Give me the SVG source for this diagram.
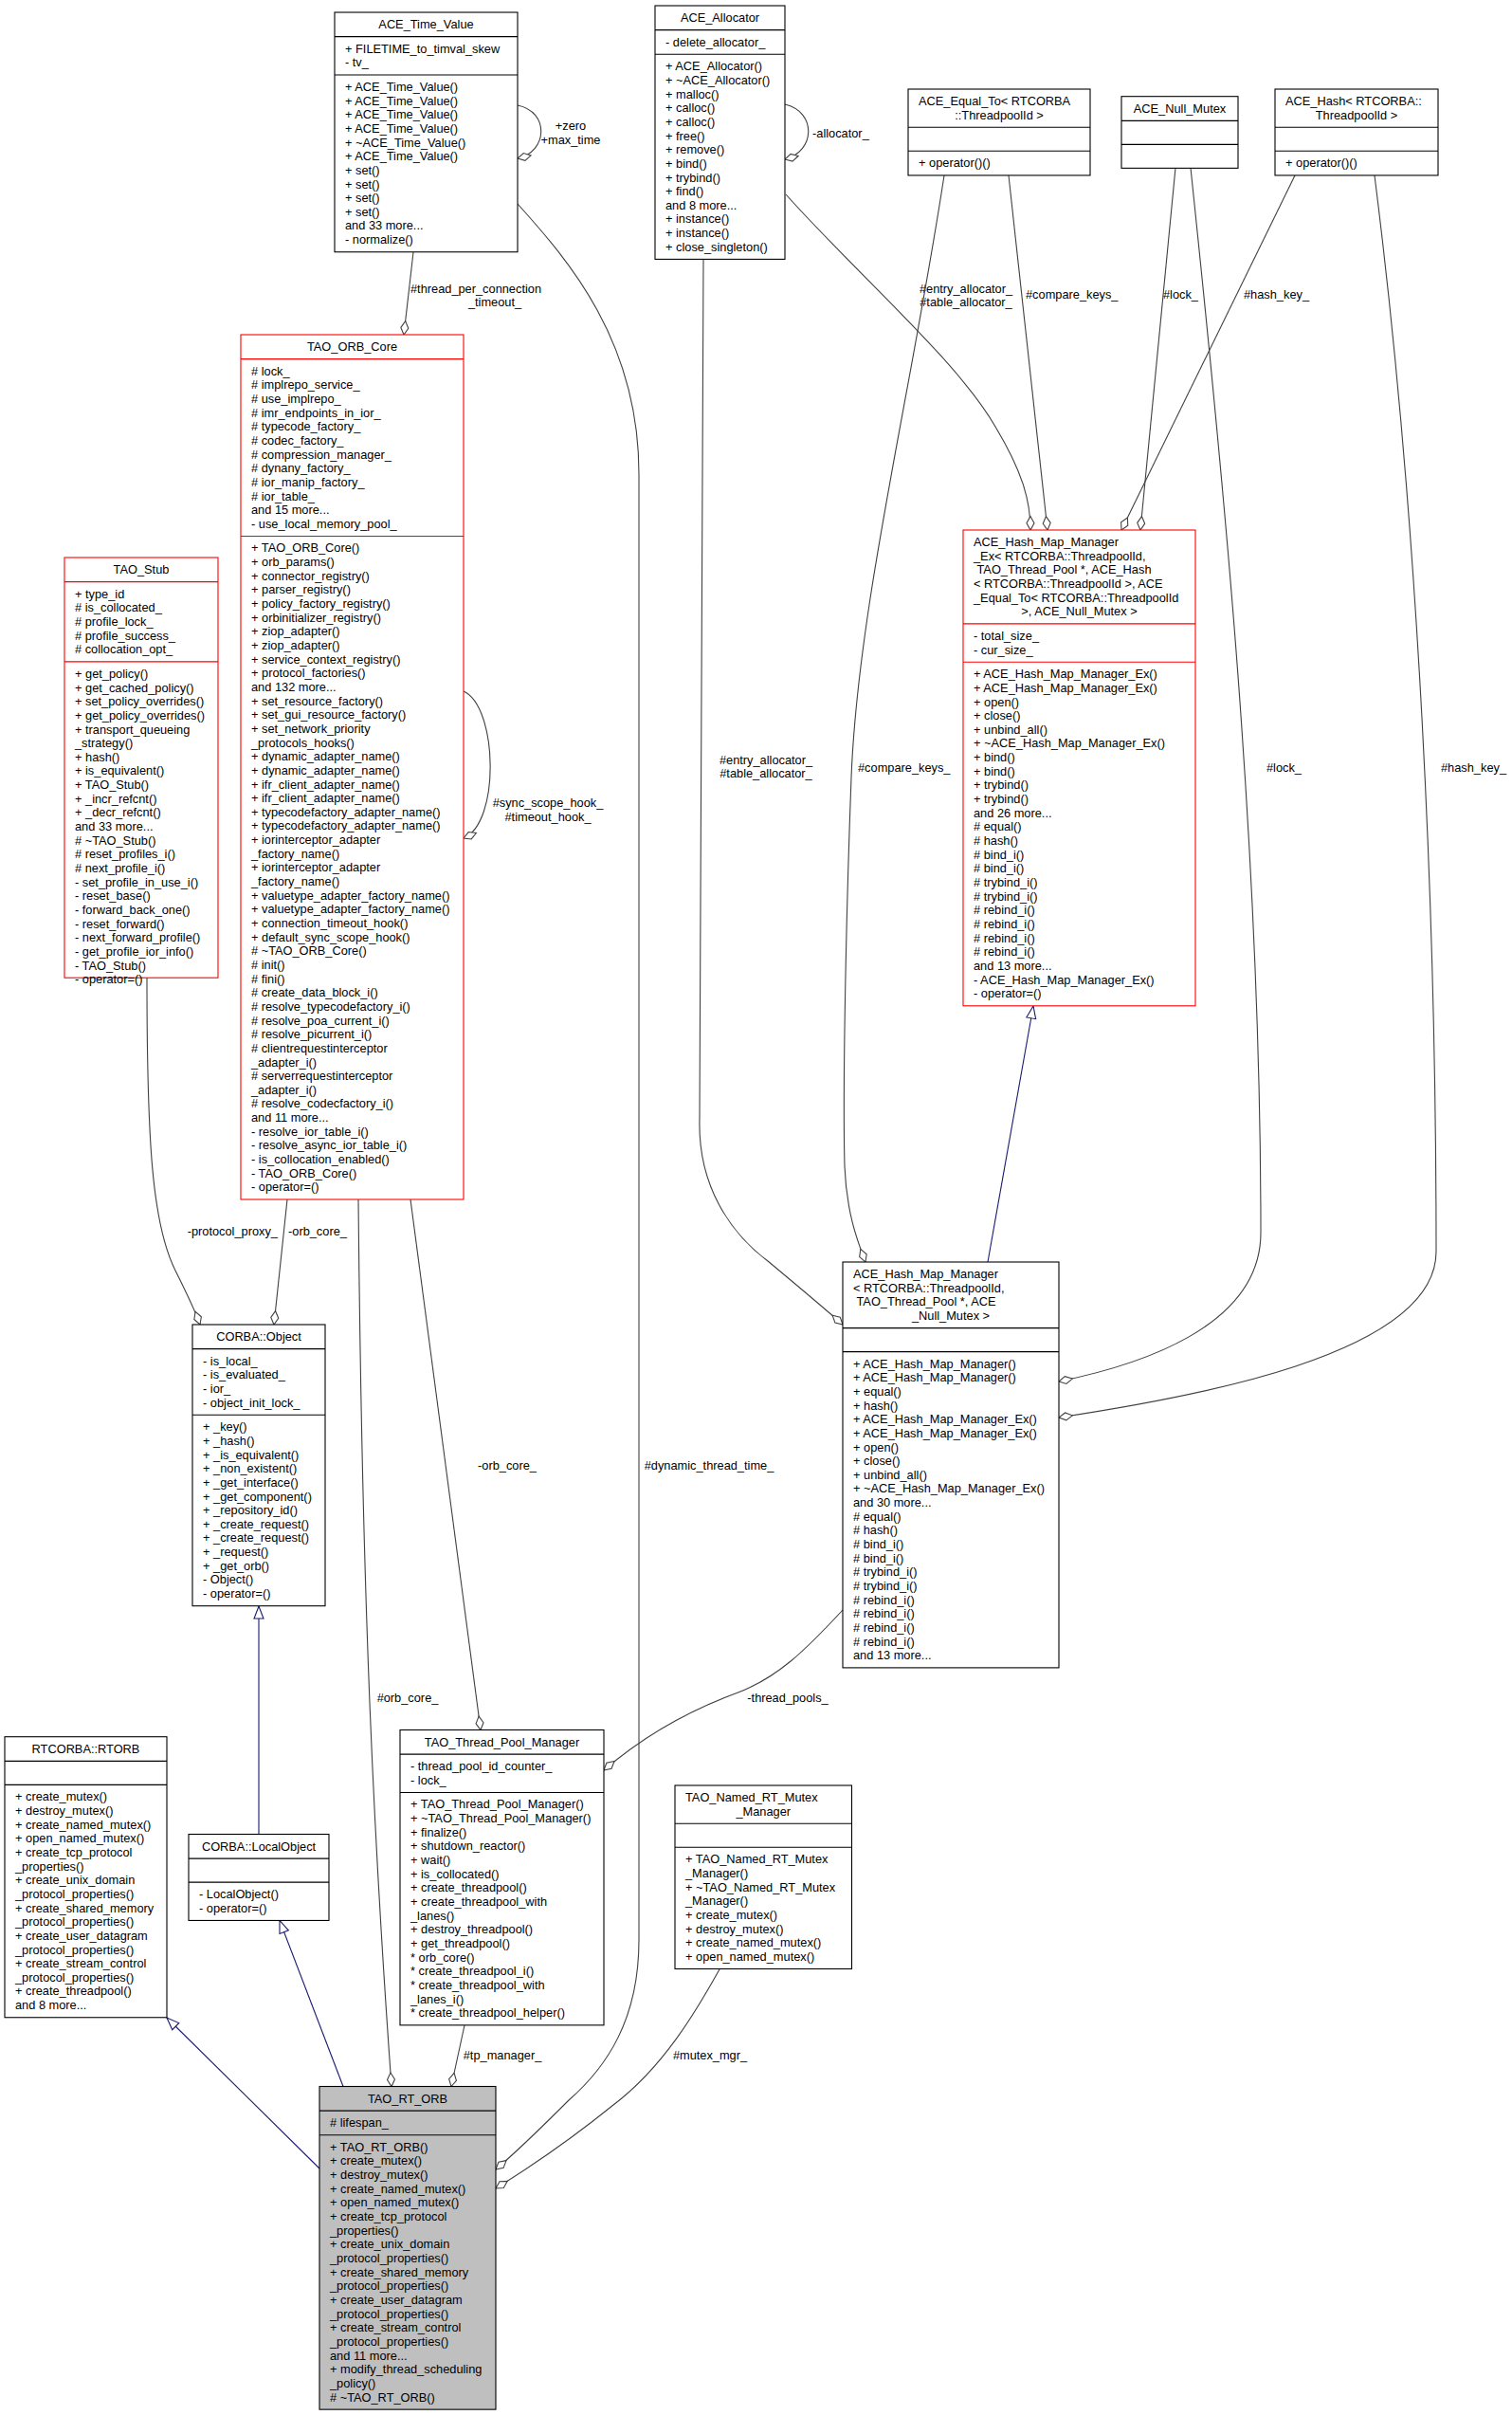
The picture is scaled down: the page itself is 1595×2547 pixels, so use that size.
<svg xmlns="http://www.w3.org/2000/svg" width="1595" height="2547" viewBox="0 0 1595 2547">
<style>
.n{fill:#fff;stroke:#000;stroke-width:1.1}
.rd{fill:#fff;stroke:#f00;stroke-width:1.1}
.gr{fill:#bfbfbf;stroke:#000;stroke-width:1.1}
.s{stroke:#000;stroke-width:1.1}
.sr{stroke:#f00;stroke-width:1.1}
text{font-family:"Liberation Sans",Arial,Helvetica,sans-serif;font-size:12.8px;fill:#000}
.c{text-anchor:middle}
.e{fill:none;stroke:#404040;stroke-width:1.1}
.i{fill:none;stroke:#191970;stroke-width:1.1}
</style>
<defs>
<marker id="d" markerWidth="17" markerHeight="11" refX="15.5" refY="5.5" orient="auto" markerUnits="userSpaceOnUse" overflow="visible"><path d="M1,5.5 L8.25,1.5 L15.5,5.5 L8.25,9.5 Z" fill="#fff" stroke="#404040" stroke-width="1.1"/></marker>
<marker id="t" markerWidth="15" markerHeight="12" refX="14" refY="6" orient="auto" markerUnits="userSpaceOnUse" overflow="visible"><path d="M1,1 L14,6 L1,11 Z" fill="#fff" stroke="#191970" stroke-width="1.1"/></marker>
</defs>
<rect width="1595" height="2547" fill="#fff"/>

<g id="edges">
<path class="e" d="M546,111 C580,118 578,160 546,167" marker-end="url(#d)"/>
<text x="602" y="137" class="c">+zero</text><text x="602" y="151.7" class="c">+max_time</text>
<path class="e" d="M828,110 C862,118 860,160 828,168" marker-end="url(#d)"/>
<text x="857" y="144.5">-allocator_</text>
<path class="e" d="M436,266 L426,353" marker-end="url(#d)"/>
<text x="502" y="308.5" class="c">#thread_per_connection</text><text x="522" y="322.5" class="c">_timeout_</text>
<path class="e" d="M489,729 C525,745 528,868 489,884" marker-end="url(#d)"/>
<text x="578" y="851" class="c">#sync_scope_hook_</text><text x="578" y="865.5" class="c">#timeout_hook_</text>
<path class="e" d="M829,205 C900,285 1010,380 1050,450 C1080,500 1087,530 1087,559" marker-end="url(#d)"/>
<text x="1019" y="308.5" class="c">#entry_allocator_</text><text x="1019" y="322.5" class="c">#table_allocator_</text>
<path class="e" d="M1064,185 L1105,559" marker-end="url(#d)"/>
<text x="1082" y="314.5">#compare_keys_</text>
<path class="e" d="M1240,177 L1203,559" marker-end="url(#d)"/>
<text x="1227" y="314.5">#lock_</text>
<path class="e" d="M1366,185 L1183,559" marker-end="url(#d)"/>
<text x="1312" y="314.5">#hash_key_</text>
<path class="e" d="M742,274 L738,1180 C736,1250 770,1300 810,1330 C840,1355 870,1380 889,1397" marker-end="url(#d)"/>
<text x="808" y="806" class="c">#entry_allocator_</text><text x="808" y="820" class="c">#table_allocator_</text>
<path class="e" d="M996,185 C960,420 905,640 898,820 C892,980 889,1150 891,1230 C893,1280 905,1310 913,1331" marker-end="url(#d)"/>
<text x="905" y="813.5">#compare_keys_</text>
<path class="e" d="M1256,177 C1290,500 1330,900 1330,1300 C1330,1400 1200,1440 1117,1457" marker-end="url(#d)"/>
<text x="1336" y="813.5">#lock_</text>
<path class="e" d="M1450,185 C1490,500 1515,900 1515,1320 C1515,1430 1250,1475 1117,1495" marker-end="url(#d)"/>
<text x="1520" y="813.5">#hash_key_</text>
<path class="i" d="M1042,1331 L1090,1061" marker-end="url(#t)"/>
<path class="e" d="M889,1698 C850,1740 820,1770 776,1786 C730,1803 680,1830 637,1867" marker-end="url(#d)"/>
<text x="831" y="1795" class="c">-thread_pools_</text>
<path class="e" d="M303,1265 L289,1397" marker-end="url(#d)"/>
<text x="304" y="1302.5">-orb_core_</text>
<path class="e" d="M155,1031 C155,1200 160,1290 185,1340 C195,1360 205,1380 211,1397" marker-end="url(#d)"/>
<text x="293" y="1302.5" text-anchor="end">-protocol_proxy_</text>
<path class="e" d="M433,1265 L507,1824.5" marker-end="url(#d)"/>
<text x="535" y="1549.5" class="c">-orb_core_</text>
<path class="e" d="M378,1265 C382,1700 395,1950 413,2200.5" marker-end="url(#d)"/>
<text x="430" y="1795" class="c">#orb_core_</text>
<path class="e" d="M490,2136 L476,2200.5" marker-end="url(#d)"/>
<text x="530" y="2172" class="c">#tp_manager_</text>
<path class="e" d="M546,215 C600,275 674,360 674,500 L674,2046 C674,2130 640,2180 600,2215 C575,2240 550,2265 523,2288" marker-end="url(#d)"/>
<text x="748" y="1549.5" class="c">#dynamic_thread_time_</text>
<path class="e" d="M759,2077 C735,2120 700,2180 647,2220 C610,2250 560,2285 523,2308" marker-end="url(#d)"/>
<text x="749" y="2172" class="c">#mutex_mgr_</text>
<path class="i" d="M273,1934.5 L273,1694" marker-end="url(#t)"/>
<path class="i" d="M362,2200.5 L295,2025.5" marker-end="url(#t)"/>
<path class="i" d="M337,2287 L176,2128" marker-end="url(#t)"/>
</g>

<g id="ace_time_value">
<rect class="n" x="353" y="13" width="193" height="252.75"/>
<line class="s" x1="353" y1="38.65" x2="546" y2="38.65"/>
<line class="s" x1="353" y1="78.95" x2="546" y2="78.95"/>
<text class="c" x="449.5" y="30">ACE_Time_Value</text>
<text x="364" y="55.65"><tspan x="364">+ FILETIME_to_timval_skew</tspan><tspan x="364" dy="14.65">- tv_</tspan></text>
<text x="364" y="95.95"><tspan x="364">+ ACE_Time_Value()</tspan><tspan x="364" dy="14.65">+ ACE_Time_Value()</tspan><tspan x="364" dy="14.65">+ ACE_Time_Value()</tspan><tspan x="364" dy="14.65">+ ACE_Time_Value()</tspan><tspan x="364" dy="14.65">+ ~ACE_Time_Value()</tspan><tspan x="364" dy="14.65">+ ACE_Time_Value()</tspan><tspan x="364" dy="14.65">+ set()</tspan><tspan x="364" dy="14.65">+ set()</tspan><tspan x="364" dy="14.65">+ set()</tspan><tspan x="364" dy="14.65">+ set()</tspan><tspan x="364" dy="14.65">and 33 more...</tspan><tspan x="364" dy="14.65">- normalize()</tspan></text>
</g>

<g id="ace_allocator">
<rect class="n" x="691" y="6" width="137" height="267.4"/>
<line class="s" x1="691" y1="31.65" x2="828" y2="31.65"/>
<line class="s" x1="691" y1="57.3" x2="828" y2="57.3"/>
<text class="c" x="759.5" y="23">ACE_Allocator</text>
<text x="702" y="48.65">- delete_allocator_</text>
<text x="702" y="74.3"><tspan x="702">+ ACE_Allocator()</tspan><tspan x="702" dy="14.65">+ ~ACE_Allocator()</tspan><tspan x="702" dy="14.65">+ malloc()</tspan><tspan x="702" dy="14.65">+ calloc()</tspan><tspan x="702" dy="14.65">+ calloc()</tspan><tspan x="702" dy="14.65">+ free()</tspan><tspan x="702" dy="14.65">+ remove()</tspan><tspan x="702" dy="14.65">+ bind()</tspan><tspan x="702" dy="14.65">+ trybind()</tspan><tspan x="702" dy="14.65">+ find()</tspan><tspan x="702" dy="14.65">and 8 more...</tspan><tspan x="702" dy="14.65">+ instance()</tspan><tspan x="702" dy="14.65">+ instance()</tspan><tspan x="702" dy="14.65">+ close_singleton()</tspan></text>
</g>

<g id="ace_equal_to">
<rect class="n" x="958" y="94" width="192" height="90.95"/>
<line class="s" x1="958" y1="134.3" x2="1150" y2="134.3"/>
<line class="s" x1="958" y1="159.3" x2="1150" y2="159.3"/>
<text x="969" y="111">ACE_Equal_To&lt; RTCORBA</text>
<text class="c" x="1054" y="125.65">::ThreadpoolId &gt;</text>
<text x="969" y="176.3">+ operator()()</text>
</g>

<g id="ace_null_mutex">
<rect class="n" x="1183" y="101.7" width="123" height="75.65"/>
<line class="s" x1="1183" y1="127.35" x2="1306" y2="127.35"/>
<line class="s" x1="1183" y1="152.35" x2="1306" y2="152.35"/>
<text class="c" x="1244.5" y="118.7">ACE_Null_Mutex</text>
</g>

<g id="ace_hash">
<rect class="n" x="1345" y="94" width="172" height="90.95"/>
<line class="s" x1="1345" y1="134.3" x2="1517" y2="134.3"/>
<line class="s" x1="1345" y1="159.3" x2="1517" y2="159.3"/>
<text x="1356" y="111">ACE_Hash&lt; RTCORBA::</text>
<text class="c" x="1431" y="125.65">ThreadpoolId &gt;</text>
<text x="1356" y="176.3">+ operator()()</text>
</g>

<g id="ace_hash_map_manager_ex">
<rect class="rd" x="1016" y="559" width="245" height="501.8"/>
<line class="sr" x1="1016" y1="657.9" x2="1261" y2="657.9"/>
<line class="sr" x1="1016" y1="698.2" x2="1261" y2="698.2"/>
<text x="1027" y="576"><tspan x="1027">ACE_Hash_Map_Manager</tspan><tspan x="1027" dy="14.65">_Ex&lt; RTCORBA::ThreadpoolId,</tspan><tspan x="1030.5" dy="14.65">TAO_Thread_Pool *, ACE_Hash</tspan><tspan x="1027" dy="14.65">&lt; RTCORBA::ThreadpoolId &gt;, ACE</tspan><tspan x="1027" dy="14.65">_Equal_To&lt; RTCORBA::ThreadpoolId</tspan></text>
<text class="c" x="1138.5" y="649.25">&gt;, ACE_Null_Mutex &gt;</text>
<text x="1027" y="674.9"><tspan x="1027">- total_size_</tspan><tspan x="1027" dy="14.65">- cur_size_</tspan></text>
<text x="1027" y="715.2"><tspan x="1027">+ ACE_Hash_Map_Manager_Ex()</tspan><tspan x="1027" dy="14.65">+ ACE_Hash_Map_Manager_Ex()</tspan><tspan x="1027" dy="14.65">+ open()</tspan><tspan x="1027" dy="14.65">+ close()</tspan><tspan x="1027" dy="14.65">+ unbind_all()</tspan><tspan x="1027" dy="14.65">+ ~ACE_Hash_Map_Manager_Ex()</tspan><tspan x="1027" dy="14.65">+ bind()</tspan><tspan x="1027" dy="14.65">+ bind()</tspan><tspan x="1027" dy="14.65">+ trybind()</tspan><tspan x="1027" dy="14.65">+ trybind()</tspan><tspan x="1027" dy="14.65">and 26 more...</tspan><tspan x="1027" dy="14.65"># equal()</tspan><tspan x="1027" dy="14.65"># hash()</tspan><tspan x="1027" dy="14.65"># bind_i()</tspan><tspan x="1027" dy="14.65"># bind_i()</tspan><tspan x="1027" dy="14.65"># trybind_i()</tspan><tspan x="1027" dy="14.65"># trybind_i()</tspan><tspan x="1027" dy="14.65"># rebind_i()</tspan><tspan x="1027" dy="14.65"># rebind_i()</tspan><tspan x="1027" dy="14.65"># rebind_i()</tspan><tspan x="1027" dy="14.65"># rebind_i()</tspan><tspan x="1027" dy="14.65">and 13 more...</tspan><tspan x="1027" dy="14.65">- ACE_Hash_Map_Manager_Ex()</tspan><tspan x="1027" dy="14.65">- operator=()</tspan></text>
</g>

<g id="ace_hash_map_manager">
<rect class="n" x="889" y="1331" width="228" height="427.9"/>
<line class="s" x1="889" y1="1400.6" x2="1117" y2="1400.6"/>
<line class="s" x1="889" y1="1425.6" x2="1117" y2="1425.6"/>
<text x="900" y="1348"><tspan x="900">ACE_Hash_Map_Manager</tspan><tspan x="900" dy="14.65">&lt; RTCORBA::ThreadpoolId,</tspan><tspan x="903.5" dy="14.65">TAO_Thread_Pool *, ACE</tspan></text>
<text class="c" x="1003" y="1391.95">_Null_Mutex &gt;</text>
<text x="900" y="1442.6"><tspan x="900">+ ACE_Hash_Map_Manager()</tspan><tspan x="900" dy="14.65">+ ACE_Hash_Map_Manager()</tspan><tspan x="900" dy="14.65">+ equal()</tspan><tspan x="900" dy="14.65">+ hash()</tspan><tspan x="900" dy="14.65">+ ACE_Hash_Map_Manager_Ex()</tspan><tspan x="900" dy="14.65">+ ACE_Hash_Map_Manager_Ex()</tspan><tspan x="900" dy="14.65">+ open()</tspan><tspan x="900" dy="14.65">+ close()</tspan><tspan x="900" dy="14.65">+ unbind_all()</tspan><tspan x="900" dy="14.65">+ ~ACE_Hash_Map_Manager_Ex()</tspan><tspan x="900" dy="14.65">and 30 more...</tspan><tspan x="900" dy="14.65"># equal()</tspan><tspan x="900" dy="14.65"># hash()</tspan><tspan x="900" dy="14.65"># bind_i()</tspan><tspan x="900" dy="14.65"># bind_i()</tspan><tspan x="900" dy="14.65"># trybind_i()</tspan><tspan x="900" dy="14.65"># trybind_i()</tspan><tspan x="900" dy="14.65"># rebind_i()</tspan><tspan x="900" dy="14.65"># rebind_i()</tspan><tspan x="900" dy="14.65"># rebind_i()</tspan><tspan x="900" dy="14.65"># rebind_i()</tspan><tspan x="900" dy="14.65">and 13 more...</tspan></text>
</g>

<g id="tao_orb_core">
<rect class="rd" x="254" y="353" width="235" height="912"/>
<line class="sr" x1="254" y1="378.65" x2="489" y2="378.65"/>
<line class="sr" x1="254" y1="565.45" x2="489" y2="565.45"/>
<text class="c" x="371.5" y="370">TAO_ORB_Core</text>
<text x="265" y="395.65"><tspan x="265"># lock_</tspan><tspan x="265" dy="14.65"># implrepo_service_</tspan><tspan x="265" dy="14.65"># use_implrepo_</tspan><tspan x="265" dy="14.65"># imr_endpoints_in_ior_</tspan><tspan x="265" dy="14.65"># typecode_factory_</tspan><tspan x="265" dy="14.65"># codec_factory_</tspan><tspan x="265" dy="14.65"># compression_manager_</tspan><tspan x="265" dy="14.65"># dynany_factory_</tspan><tspan x="265" dy="14.65"># ior_manip_factory_</tspan><tspan x="265" dy="14.65"># ior_table_</tspan><tspan x="265" dy="14.65">and 15 more...</tspan><tspan x="265" dy="14.65">- use_local_memory_pool_</tspan></text>
<text x="265" y="582.45"><tspan x="265">+ TAO_ORB_Core()</tspan><tspan x="265" dy="14.65">+ orb_params()</tspan><tspan x="265" dy="14.65">+ connector_registry()</tspan><tspan x="265" dy="14.65">+ parser_registry()</tspan><tspan x="265" dy="14.65">+ policy_factory_registry()</tspan><tspan x="265" dy="14.65">+ orbinitializer_registry()</tspan><tspan x="265" dy="14.65">+ ziop_adapter()</tspan><tspan x="265" dy="14.65">+ ziop_adapter()</tspan><tspan x="265" dy="14.65">+ service_context_registry()</tspan><tspan x="265" dy="14.65">+ protocol_factories()</tspan><tspan x="265" dy="14.65">and 132 more...</tspan><tspan x="265" dy="14.65">+ set_resource_factory()</tspan><tspan x="265" dy="14.65">+ set_gui_resource_factory()</tspan><tspan x="265" dy="14.65">+ set_network_priority</tspan><tspan x="265" dy="14.65">_protocols_hooks()</tspan><tspan x="265" dy="14.65">+ dynamic_adapter_name()</tspan><tspan x="265" dy="14.65">+ dynamic_adapter_name()</tspan><tspan x="265" dy="14.65">+ ifr_client_adapter_name()</tspan><tspan x="265" dy="14.65">+ ifr_client_adapter_name()</tspan><tspan x="265" dy="14.65">+ typecodefactory_adapter_name()</tspan><tspan x="265" dy="14.65">+ typecodefactory_adapter_name()</tspan><tspan x="265" dy="14.65">+ iorinterceptor_adapter</tspan><tspan x="265" dy="14.65">_factory_name()</tspan><tspan x="265" dy="14.65">+ iorinterceptor_adapter</tspan><tspan x="265" dy="14.65">_factory_name()</tspan><tspan x="265" dy="14.65">+ valuetype_adapter_factory_name()</tspan><tspan x="265" dy="14.65">+ valuetype_adapter_factory_name()</tspan><tspan x="265" dy="14.65">+ connection_timeout_hook()</tspan><tspan x="265" dy="14.65">+ default_sync_scope_hook()</tspan><tspan x="265" dy="14.65"># ~TAO_ORB_Core()</tspan><tspan x="265" dy="14.65"># init()</tspan><tspan x="265" dy="14.65"># fini()</tspan><tspan x="265" dy="14.65"># create_data_block_i()</tspan><tspan x="265" dy="14.65"># resolve_typecodefactory_i()</tspan><tspan x="265" dy="14.65"># resolve_poa_current_i()</tspan><tspan x="265" dy="14.65"># resolve_picurrent_i()</tspan><tspan x="265" dy="14.65"># clientrequestinterceptor</tspan><tspan x="265" dy="14.65">_adapter_i()</tspan><tspan x="265" dy="14.65"># serverrequestinterceptor</tspan><tspan x="265" dy="14.65">_adapter_i()</tspan><tspan x="265" dy="14.65"># resolve_codecfactory_i()</tspan><tspan x="265" dy="14.65">and 11 more...</tspan><tspan x="265" dy="14.65">- resolve_ior_table_i()</tspan><tspan x="265" dy="14.65">- resolve_async_ior_table_i()</tspan><tspan x="265" dy="14.65">- is_collocation_enabled()</tspan><tspan x="265" dy="14.65">- TAO_ORB_Core()</tspan><tspan x="265" dy="14.65">- operator=()</tspan></text>
</g>

<g id="tao_stub">
<rect class="rd" x="68" y="588" width="162" height="443.2"/>
<line class="sr" x1="68" y1="613.65" x2="230" y2="613.65"/>
<line class="sr" x1="68" y1="697.9" x2="230" y2="697.9"/>
<text class="c" x="149" y="605">TAO_Stub</text>
<text x="79" y="630.65"><tspan x="79">+ type_id</tspan><tspan x="79" dy="14.65"># is_collocated_</tspan><tspan x="79" dy="14.65"># profile_lock_</tspan><tspan x="79" dy="14.65"># profile_success_</tspan><tspan x="79" dy="14.65"># collocation_opt_</tspan></text>
<text x="79" y="714.9"><tspan x="79">+ get_policy()</tspan><tspan x="79" dy="14.65">+ get_cached_policy()</tspan><tspan x="79" dy="14.65">+ set_policy_overrides()</tspan><tspan x="79" dy="14.65">+ get_policy_overrides()</tspan><tspan x="79" dy="14.65">+ transport_queueing</tspan><tspan x="79" dy="14.65">_strategy()</tspan><tspan x="79" dy="14.65">+ hash()</tspan><tspan x="79" dy="14.65">+ is_equivalent()</tspan><tspan x="79" dy="14.65">+ TAO_Stub()</tspan><tspan x="79" dy="14.65">+ _incr_refcnt()</tspan><tspan x="79" dy="14.65">+ _decr_refcnt()</tspan><tspan x="79" dy="14.65">and 33 more...</tspan><tspan x="79" dy="14.65"># ~TAO_Stub()</tspan><tspan x="79" dy="14.65"># reset_profiles_i()</tspan><tspan x="79" dy="14.65"># next_profile_i()</tspan><tspan x="79" dy="14.65">- set_profile_in_use_i()</tspan><tspan x="79" dy="14.65">- reset_base()</tspan><tspan x="79" dy="14.65">- forward_back_one()</tspan><tspan x="79" dy="14.65">- reset_forward()</tspan><tspan x="79" dy="14.65">- next_forward_profile()</tspan><tspan x="79" dy="14.65">- get_profile_ior_info()</tspan><tspan x="79" dy="14.65">- TAO_Stub()</tspan><tspan x="79" dy="14.65">- operator=()</tspan></text>
</g>

<g id="corba_object">
<rect class="n" x="203" y="1397" width="140" height="296.7"/>
<line class="s" x1="203" y1="1422.65" x2="343" y2="1422.65"/>
<line class="s" x1="203" y1="1492.25" x2="343" y2="1492.25"/>
<text class="c" x="273" y="1414">CORBA::Object</text>
<text x="214" y="1439.65"><tspan x="214">- is_local_</tspan><tspan x="214" dy="14.65">- is_evaluated_</tspan><tspan x="214" dy="14.65">- ior_</tspan><tspan x="214" dy="14.65">- object_init_lock_</tspan></text>
<text x="214" y="1509.25"><tspan x="214">+ _key()</tspan><tspan x="214" dy="14.65">+ _hash()</tspan><tspan x="214" dy="14.65">+ _is_equivalent()</tspan><tspan x="214" dy="14.65">+ _non_existent()</tspan><tspan x="214" dy="14.65">+ _get_interface()</tspan><tspan x="214" dy="14.65">+ _get_component()</tspan><tspan x="214" dy="14.65">+ _repository_id()</tspan><tspan x="214" dy="14.65">+ _create_request()</tspan><tspan x="214" dy="14.65">+ _create_request()</tspan><tspan x="214" dy="14.65">+ _request()</tspan><tspan x="214" dy="14.65">+ _get_orb()</tspan><tspan x="214" dy="14.65">- Object()</tspan><tspan x="214" dy="14.65">- operator=()</tspan></text>
</g>

<g id="corba_localobject">
<rect class="n" x="199" y="1934.5" width="148" height="90.95"/>
<line class="s" x1="199" y1="1960.15" x2="347" y2="1960.15"/>
<line class="s" x1="199" y1="1985.15" x2="347" y2="1985.15"/>
<text class="c" x="273" y="1951.5">CORBA::LocalObject</text>
<text x="210" y="2002.15"><tspan x="210">- LocalObject()</tspan><tspan x="210" dy="14.65">- operator=()</tspan></text>
</g>

<g id="rtcorba_rtorb">
<rect class="n" x="5" y="1831.7" width="171" height="296.05"/>
<line class="s" x1="5" y1="1857.35" x2="176" y2="1857.35"/>
<line class="s" x1="5" y1="1882.35" x2="176" y2="1882.35"/>
<text class="c" x="90.5" y="1848.7">RTCORBA::RTORB</text>
<text x="16" y="1899.35"><tspan x="16">+ create_mutex()</tspan><tspan x="16" dy="14.65">+ destroy_mutex()</tspan><tspan x="16" dy="14.65">+ create_named_mutex()</tspan><tspan x="16" dy="14.65">+ open_named_mutex()</tspan><tspan x="16" dy="14.65">+ create_tcp_protocol</tspan><tspan x="16" dy="14.65">_properties()</tspan><tspan x="16" dy="14.65">+ create_unix_domain</tspan><tspan x="16" dy="14.65">_protocol_properties()</tspan><tspan x="16" dy="14.65">+ create_shared_memory</tspan><tspan x="16" dy="14.65">_protocol_properties()</tspan><tspan x="16" dy="14.65">+ create_user_datagram</tspan><tspan x="16" dy="14.65">_protocol_properties()</tspan><tspan x="16" dy="14.65">+ create_stream_control</tspan><tspan x="16" dy="14.65">_protocol_properties()</tspan><tspan x="16" dy="14.65">+ create_threadpool()</tspan><tspan x="16" dy="14.65">and 8 more...</tspan></text>
</g>

<g id="tao_thread_pool_manager">
<rect class="n" x="422" y="1824.5" width="215" height="311.35"/>
<line class="s" x1="422" y1="1850.15" x2="637" y2="1850.15"/>
<line class="s" x1="422" y1="1890.45" x2="637" y2="1890.45"/>
<text class="c" x="529.5" y="1841.5">TAO_Thread_Pool_Manager</text>
<text x="433" y="1867.15"><tspan x="433">- thread_pool_id_counter_</tspan><tspan x="433" dy="14.65">- lock_</tspan></text>
<text x="433" y="1907.45"><tspan x="433">+ TAO_Thread_Pool_Manager()</tspan><tspan x="433" dy="14.65">+ ~TAO_Thread_Pool_Manager()</tspan><tspan x="433" dy="14.65">+ finalize()</tspan><tspan x="433" dy="14.65">+ shutdown_reactor()</tspan><tspan x="433" dy="14.65">+ wait()</tspan><tspan x="433" dy="14.65">+ is_collocated()</tspan><tspan x="433" dy="14.65">+ create_threadpool()</tspan><tspan x="433" dy="14.65">+ create_threadpool_with</tspan><tspan x="433" dy="14.65">_lanes()</tspan><tspan x="433" dy="14.65">+ destroy_threadpool()</tspan><tspan x="433" dy="14.65">+ get_threadpool()</tspan><tspan x="433" dy="14.65">* orb_core()</tspan><tspan x="433" dy="14.65">* create_threadpool_i()</tspan><tspan x="433" dy="14.65">* create_threadpool_with</tspan><tspan x="433" dy="14.65">_lanes_i()</tspan><tspan x="433" dy="14.65">* create_threadpool_helper()</tspan></text>
</g>

<g id="tao_named_rt_mutex_manager">
<rect class="n" x="712" y="1883" width="186.5" height="193.5"/>
<line class="s" x1="712" y1="1923.3" x2="898.5" y2="1923.3"/>
<line class="s" x1="712" y1="1948.3" x2="898.5" y2="1948.3"/>
<text x="723" y="1900">TAO_Named_RT_Mutex</text>
<text class="c" x="805.25" y="1914.65">_Manager</text>
<text x="723" y="1965.3"><tspan x="723">+ TAO_Named_RT_Mutex</tspan><tspan x="723" dy="14.65">_Manager()</tspan><tspan x="723" dy="14.65">+ ~TAO_Named_RT_Mutex</tspan><tspan x="723" dy="14.65">_Manager()</tspan><tspan x="723" dy="14.65">+ create_mutex()</tspan><tspan x="723" dy="14.65">+ destroy_mutex()</tspan><tspan x="723" dy="14.65">+ create_named_mutex()</tspan><tspan x="723" dy="14.65">+ open_named_mutex()</tspan></text>
</g>

<g id="tao_rt_orb">
<rect class="gr" x="337" y="2200.5" width="186" height="340.65"/>
<line class="s" x1="337" y1="2226.15" x2="523" y2="2226.15"/>
<line class="s" x1="337" y1="2251.8" x2="523" y2="2251.8"/>
<text class="c" x="430" y="2217.5">TAO_RT_ORB</text>
<text x="348" y="2243.15"># lifespan_</text>
<text x="348" y="2268.8"><tspan x="348">+ TAO_RT_ORB()</tspan><tspan x="348" dy="14.65">+ create_mutex()</tspan><tspan x="348" dy="14.65">+ destroy_mutex()</tspan><tspan x="348" dy="14.65">+ create_named_mutex()</tspan><tspan x="348" dy="14.65">+ open_named_mutex()</tspan><tspan x="348" dy="14.65">+ create_tcp_protocol</tspan><tspan x="348" dy="14.65">_properties()</tspan><tspan x="348" dy="14.65">+ create_unix_domain</tspan><tspan x="348" dy="14.65">_protocol_properties()</tspan><tspan x="348" dy="14.65">+ create_shared_memory</tspan><tspan x="348" dy="14.65">_protocol_properties()</tspan><tspan x="348" dy="14.65">+ create_user_datagram</tspan><tspan x="348" dy="14.65">_protocol_properties()</tspan><tspan x="348" dy="14.65">+ create_stream_control</tspan><tspan x="348" dy="14.65">_protocol_properties()</tspan><tspan x="348" dy="14.65">and 11 more...</tspan><tspan x="348" dy="14.65">+ modify_thread_scheduling</tspan><tspan x="348" dy="14.65">_policy()</tspan><tspan x="348" dy="14.65"># ~TAO_RT_ORB()</tspan></text>
</g>
</svg>
